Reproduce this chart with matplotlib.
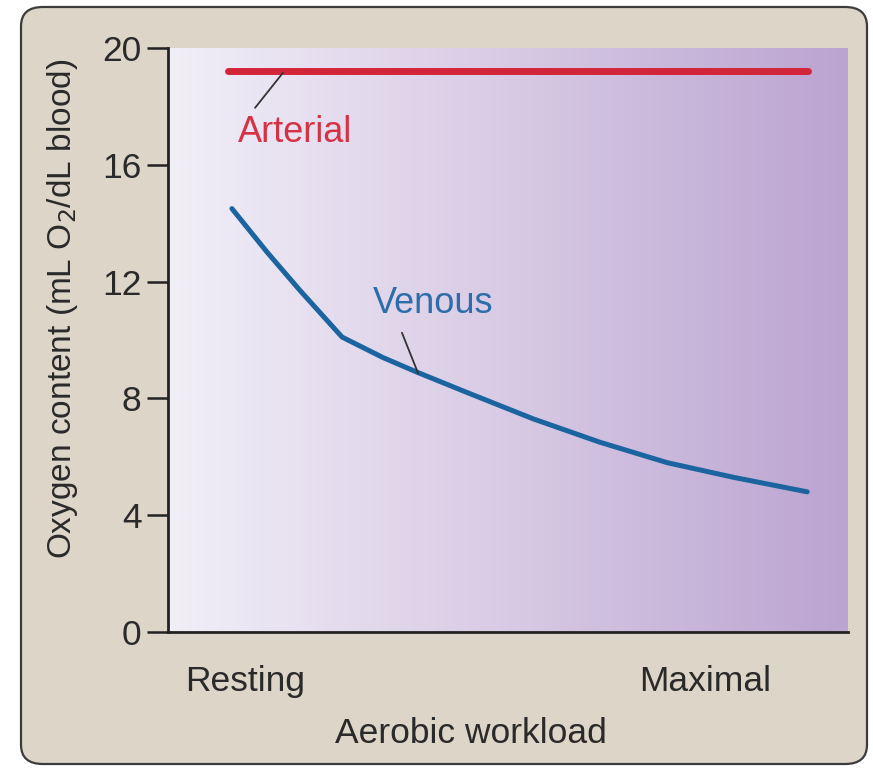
import numpy as np
import matplotlib
matplotlib.use("Agg")
from matplotlib import pyplot as plt
from matplotlib.patches import FancyBboxPatch
from matplotlib.colors import LinearSegmentedColormap

plt.rcParams['font.family'] = ['Liberation Sans', 'DejaVu Sans']

# data (x in % of the workload axis)
arterial_x = [8.8, 94.1]
arterial_y = [19.2, 19.2]
venous_x = [9.4, 14.6, 19.4, 25.6, 31.6, 36.6, 44.0, 53.7, 63.5, 73.4, 83.1, 94.0]
venous_y = [14.5, 13.0, 11.7, 10.1, 9.4, 8.9, 8.2, 7.3, 6.5, 5.8, 5.3, 4.8]
y_ticks = [0, 4, 8, 12, 16, 20]
x_tick_pos = [11.3, 79.0]
x_tick_labels = ["Resting", "Maximal"]

BG = "#ddd5c8"
TXT = "#2a2a2a"

fig = plt.figure(figsize=(8.73, 7.69), dpi=100)
fig.patch.set_facecolor("white")

# rounded beige panel
panel = FancyBboxPatch((21 / 873, 5 / 769), 846 / 873, 757 / 769,
                       boxstyle="round,pad=0,rounding_size=0.025",
                       transform=fig.transFigure, facecolor=BG,
                       edgecolor="#3c3c3c", linewidth=1.6, zorder=-10)
fig.patches.append(panel)

ax = fig.add_axes([168 / 873, 137 / 769, 680 / 873, 584 / 769])
ax.set_facecolor("none")

# horizontal gradient background
cmap = LinearSegmentedColormap.from_list("bg", ["#f1eff8", "#d8cae4", "#bba4d1"])
grad = np.linspace(0, 1, 256).reshape(1, -1)
ax.imshow(grad, cmap=cmap, extent=[0, 100, 0, 20], aspect="auto", zorder=0)

ax.plot(arterial_x, arterial_y, color="#d3253a", lw=5, solid_capstyle="round", zorder=3)
ax.plot(venous_x, venous_y, color="#1b64a0", lw=3.6, solid_capstyle="round",
        solid_joinstyle="round", zorder=3)

# leader lines and labels
ax.annotate("", xy=(16.9, 19.15), xytext=(12.8, 17.95),
            arrowprops=dict(arrowstyle="-", color="#333333", lw=1.3, shrinkA=0, shrinkB=0))
ax.text(18.7, 17.1, "Arterial", color="#d63245", fontsize=26, ha="center", va="center")
ax.annotate("", xy=(36.8, 8.85), xytext=(34.4, 10.25),
            arrowprops=dict(arrowstyle="-", color="#333333", lw=1.3, shrinkA=0, shrinkB=0))
ax.text(39.0, 11.25, "Venous", color="#2d6dab", fontsize=26, ha="center", va="center")

ax.set_xlim(0, 100)
ax.set_ylim(0, 20)
ax.set_yticks(y_ticks)
ax.set_xticks(x_tick_pos)
ax.set_xticklabels(x_tick_labels)

for s in ["top", "right"]:
    ax.spines[s].set_visible(False)
for s in ["left", "bottom"]:
    ax.spines[s].set_linewidth(2)
    ax.spines[s].set_color("#222222")

ax.tick_params(axis="y", length=15, width=1.8, color="#222222", labelsize=25.5,
               labelcolor=TXT, pad=4)
ax.tick_params(axis="x", length=0, labelsize=25.5, labelcolor=TXT, pad=24)

ax.set_xlabel("Aerobic workload", fontsize=25.5, color=TXT)
ax.xaxis.set_label_coords((471 - 168) / 680, -0.145)
ax.set_ylabel("Oxygen content (mL O$_2$/dL blood)", fontsize=24, color=TXT)
ax.yaxis.set_label_coords(-0.13, 0.553)

fig.savefig("out.png", dpi=100, facecolor=fig.get_facecolor())
